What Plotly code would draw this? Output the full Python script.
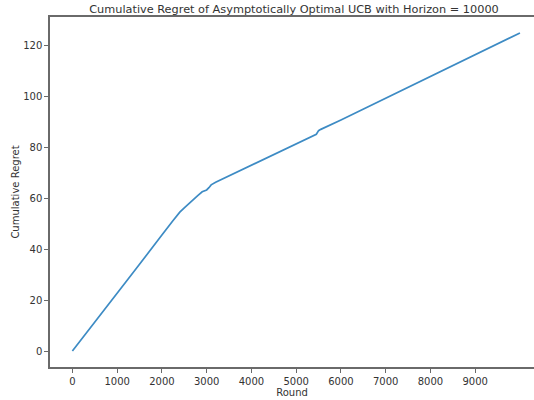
import plotly.graph_objects as go

# Cumulative regret of the asymptotically optimal UCB policy, sampled along the run
rounds = [0, 250, 500, 750, 1000, 1250, 1500, 1750, 2000, 2250, 2400, 2500,
          2600, 2700, 2800, 2900, 3000, 3050, 3100, 3200, 3500, 4000, 4500,
          5000, 5300, 5450, 5500, 5550, 6000, 6500, 7000, 7500, 8000, 8500,
          9000, 9500, 9999]
regret = [0.0, 5.6, 11.3, 17.0, 22.6, 28.4, 34.1, 40.0, 45.6, 51.3, 54.6, 56.3,
          58.0, 59.6, 61.1, 62.6, 63.3, 64.2, 65.3, 66.3, 68.8, 73.0, 77.1,
          81.2, 83.9, 85.2, 86.6, 87.1, 90.8, 95.1, 99.3, 103.6, 107.9, 112.2,
          116.4, 120.7, 125.0]

x_ticks = [0, 1000, 2000, 3000, 4000, 5000, 6000, 7000, 8000, 9000]
y_ticks = [0, 20, 40, 60, 80, 100, 120]

title_text = "Cumulative Regret of Asymptotically Optimal UCB with Horizon = 10000"
font_family = "DejaVu Sans"
axis_color = "#6a6a6a"
text_color = "#333333"

fig = go.Figure()
fig.add_trace(go.Scatter(
    x=rounds, y=regret, mode="lines",
    line=dict(color="#3d8bc4", width=1.7),
    showlegend=False, hoverinfo="skip",
))

fig.update_layout(
    width=534, height=400,
    margin=dict(l=50, r=0, t=17, b=33, pad=0),
    paper_bgcolor="white", plot_bgcolor="white",
    font=dict(family=font_family, size=10, color=text_color),
    title=dict(text=title_text, x=294 / 534, xref="container", xanchor="center",
               y=1 - 9.5 / 400, yref="container", yanchor="middle",
               font=dict(family=font_family, size=11.3, color=text_color)),
)

fig.update_xaxes(
    range=[-500, 10313], tickvals=x_ticks, ticktext=[str(v) for v in x_ticks],
    showgrid=False, zeroline=False,
    showline=True, linecolor=axis_color, linewidth=1.5, mirror=True,
    ticks="outside", ticklen=4, tickwidth=1, tickcolor=axis_color,
    tickfont=dict(size=10, color=text_color),
    title=dict(text="Round", standoff=2, font=dict(size=10, color=text_color)),
)
fig.update_yaxes(
    range=[-6.25, 131.25], tickvals=y_ticks, ticktext=[str(v) for v in y_ticks],
    showgrid=False, zeroline=False,
    showline=True, linecolor=axis_color, linewidth=1.5,
    ticks="outside", ticklen=4, tickwidth=1, tickcolor=axis_color,
    tickfont=dict(size=10, color=text_color),
    title=dict(text="Cumulative Regret", standoff=2, font=dict(size=10, color=text_color)),
)

fig.write_html("out.html")
